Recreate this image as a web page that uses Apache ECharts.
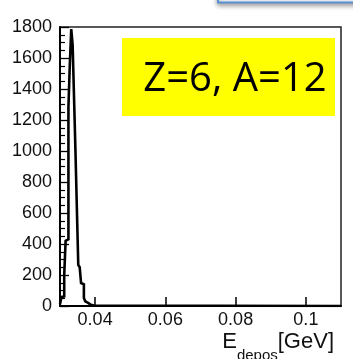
<!DOCTYPE html>
<html>
<head>
<meta charset="utf-8">
<style>
  html, body { margin: 0; padding: 0; background: #ffffff; }
  #chart { width: 353px; height: 359px; }
</style>
<script src="https://cdn.jsdelivr.net/npm/echarts@6/dist/echarts.min.js"></script>
</head>
<body>
<div id="chart"></div>
<script>
// Energy deposit histogram for Z=6, A=12
const xTickValues = [0.04, 0.06, 0.08, 0.1];
const yTickValues = [0, 200, 400, 600, 800, 1000, 1200, 1400, 1600, 1800];

// lower bin edges [GeV] and counts per bin
const binWidth = 0.0004;
const binLow = [0.0300, 0.0304, 0.0308, 0.0312, 0.0316, 0.0320, 0.0324, 0.0328,
                0.0332, 0.0336, 0.0340, 0.0344, 0.0348, 0.0352, 0.0356, 0.0360,
                0.0364, 0.0368, 0.0372, 0.0376, 0.0380, 0.0384, 0.0388, 0.0392];
const counts = [12, 58, 62, 200, 420, 430, 1284, 1563,
                1787, 1684, 1340, 1000, 632, 265, 250, 148,
                140, 52, 30, 20, 12, 8, 5, 3];

// step outline: each bin starts at its lower edge, last point closes to zero
const outline = [];
binLow.forEach((lo, i) => outline.push([lo, counts[i]]));
outline.push([binLow[binLow.length - 1] + binWidth, 0]);
outline.push([0.11, 0]);

const chart = echarts.init(document.getElementById('chart'), null, { renderer: 'canvas' });

const fontStack = 'Liberation Sans, Arial, sans-serif';
const tickFont = { fontFamily: fontStack, fontSize: 18, color: '#111', fontWeight: 'normal' };

chart.setOption({
  animation: false,
  backgroundColor: '#ffffff',
  grid: { left: 60, right: 12, top: 27, bottom: 53, show: true, borderColor: '#222', borderWidth: 1.5, backgroundColor: 'transparent' },
  xAxis: {
    type: 'value',
    min: 0.03,
    max: 0.11,
    splitLine: { show: false },
    axisLine: { show: true, onZero: false, lineStyle: { color: '#000', width: 2 } },
    axisTick: { show: true, inside: true, length: 9, lineStyle: { color: '#000', width: 1.5 }, customValues: xTickValues },
    axisLabel: Object.assign({ margin: 5, customValues: xTickValues, formatter: v => String(+v.toFixed(2)) }, tickFont)
  },
  yAxis: {
    type: 'value',
    min: yTickValues[0],
    max: yTickValues[yTickValues.length - 1],
    interval: 200,
    splitLine: { show: false },
    axisLine: { show: true, lineStyle: { color: '#000', width: 2 } },
    axisTick: { show: true, inside: true, length: 9, lineStyle: { color: '#000', width: 1.3 } },
    minorTick: { show: true, splitNumber: 4, length: 5, lineStyle: { color: '#000', width: 1.2 } },
    axisLabel: Object.assign({ margin: 8, formatter: v => String(v) }, tickFont)
  },
  title: {
    text: '{e|E}{s|depos}{g|[GeV]}',
    right: 14,
    top: 326,
    textStyle: {
      fontWeight: 'normal',
      rich: {
        e: { fontFamily: fontStack, fontSize: 22, fontWeight: 'normal', color: '#111', lineHeight: 26, verticalAlign: 'top' },
        s: { fontFamily: fontStack, fontSize: 15, fontWeight: 'normal', color: '#111', lineHeight: 32, verticalAlign: 'bottom' },
        g: { fontFamily: fontStack, fontSize: 22, fontWeight: 'normal', color: '#111', lineHeight: 26, verticalAlign: 'top' }
      }
    }
  },
  series: [{
    type: 'line',
    step: 'end',
    data: outline,
    showSymbol: false,
    symbol: 'none',
    lineStyle: { color: '#000', width: 2.6, join: 'miter' },
    z: 3
  }],
  graphic: [
    {
      type: 'rect',
      shape: { x: 218, y: -20, width: 150, height: 22.5 },
      style: { fill: '#eef3fa', stroke: '#5b8fd0', lineWidth: 2, shadowBlur: 5, shadowColor: 'rgba(0,0,0,0.35)', shadowOffsetY: 2 },
      z: 10
    },
    {
      type: 'rect',
      shape: { x: 122, y: 38, width: 213, height: 78 },
      style: { fill: '#ffff00' },
      z: 10
    },
    {
      type: 'text',
      x: 235,
      y: 80,
      style: {
        text: 'Z=6, A=12',
        fontFamily: 'Open Sans, sans-serif',
        fontSize: 40,
        fill: '#000',
        align: 'center',
        verticalAlign: 'middle'
      },
      z: 11
    }
  ]
});
</script>
</body>
</html>
